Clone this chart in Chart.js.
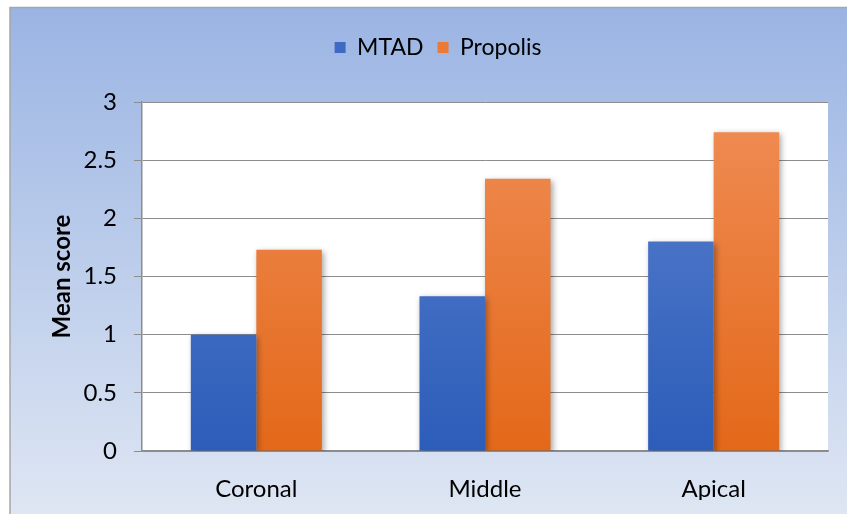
<!DOCTYPE html>
<html><head><meta charset="utf-8">
<script src="https://cdn.jsdelivr.net/npm/chart.js@4/dist/chart.umd.min.js"></script>
<style>html,body{margin:0;padding:0;background:#fff;}#wrap{width:847px;height:514px;position:relative;}</style>
</head><body><div id="wrap"><canvas id="c" width="847" height="514"></canvas></div>
<script>
const categories = ["Coronal", "Middle", "Apical"];
const mtadValues = [1.0, 1.33, 1.8];
const propolisValues = [1.73, 2.34, 2.74];
const seriesNames = ["MTAD", "Propolis"];
const yTicks = [0, 0.5, 1, 1.5, 2, 2.5, 3];

const FONT = "Lato, 'Open Sans', sans-serif";

function grad(ctx, top, bottom) {
  const ch = ctx.chart; const a = ch.chartArea;
  if (!a) return bottom;
  const g = ch.ctx.createLinearGradient(0, a.top, 0, a.bottom);
  g.addColorStop(0, top); g.addColorStop(1, bottom);
  return g;
}

const bgPlugin = {
  id: 'bg',
  beforeInit(chart) {
    const lg = chart.legend;
    if (lg) {
      const orig = lg.fit;
      lg.fit = function () { orig.call(this); this.height = 80; };
    }
  },
  beforeDraw(chart) {
    const c = chart.ctx, a = chart.chartArea;
    c.save();
    c.fillStyle = '#fff'; c.fillRect(0, 0, 847, 514);
    const g = c.createLinearGradient(0, 7, 0, 514);
    g.addColorStop(0, '#9AB4E3'); g.addColorStop(1, '#DEE6F3');
    c.fillStyle = g; c.fillRect(10, 7, 837, 507);
    c.strokeStyle = '#A6A6A6'; c.lineWidth = 1.5;
    c.beginPath(); c.moveTo(10, 514); c.lineTo(10, 7.5); c.lineTo(847, 7.5); c.stroke();
    c.fillStyle = '#fff'; c.fillRect(a.left, a.top, a.right - a.left, a.bottom - a.top);
    c.restore();
  },
  beforeDatasetsDraw(chart) {
    const c = chart.ctx; c.save();
    c.shadowColor = 'rgba(0,0,0,0.35)'; c.shadowBlur = 6; c.shadowOffsetX = 2; c.shadowOffsetY = 2;
  },
  afterDatasetsDraw(chart) { chart.ctx.restore(); }
};

new Chart(document.getElementById('c'), {
  type: 'bar',
  data: {
    labels: categories,
    datasets: [
      { label: seriesNames[0], data: mtadValues,
        backgroundColor: (ctx) => grad(ctx, '#5A80CE', '#2C5DB9') },
      { label: seriesNames[1], data: propolisValues,
        backgroundColor: (ctx) => grad(ctx, '#F08D56', '#E36819') }
    ]
  },
  options: {
    responsive: false, animation: false,
    categoryPercentage: 0.573, barPercentage: 1.0,
    layout: { padding: { left: 48, right: 19, top: 22, bottom: 14 } },
    plugins: {
      legend: {
        position: 'top',
        labels: {
          font: { family: FONT, size: 23 }, color: '#000',
          boxWidth: 11, boxHeight: 11, padding: 14,
          generateLabels(chart) {
            const cols = ['#3E6AC3', '#EB7A34'];
            return chart.data.datasets.map((d, i) => ({
              text: d.label, fillStyle: cols[i], strokeStyle: cols[i], lineWidth: 0,
              hidden: false, datasetIndex: i, fontColor: '#000'
            }));
          }
        }
      },
      tooltip: { enabled: false }
    },
    scales: {
      x: {
        afterFit(scale) { scale.height = 49; },
        grid: { display: false, drawTicks: false },
        border: { color: '#8C8C8C', width: 1.5 },
        ticks: { font: { family: FONT, size: 24 }, color: '#000', padding: 24 }
      },
      y: {
        min: 0, max: 3,
        afterBuildTicks(scale) { scale.ticks = yTicks.map(v => ({ value: v })); },
        afterFit(scale) { scale.width = 94; },
        grid: { color: '#8C8C8C', lineWidth: 1, tickLength: 8, drawOnChartArea: true },
        border: { color: '#8C8C8C', width: 1.5 },
        ticks: { font: { family: FONT, size: 24 }, color: '#000', padding: 17,
          callback: (v) => String(v) },
        title: { display: true, text: 'Mean score', color: '#000',
          font: { family: FONT, size: 24, weight: 'bold' }, padding: 0 }
      }
    }
  },
  plugins: [bgPlugin]
});
</script></body></html>
